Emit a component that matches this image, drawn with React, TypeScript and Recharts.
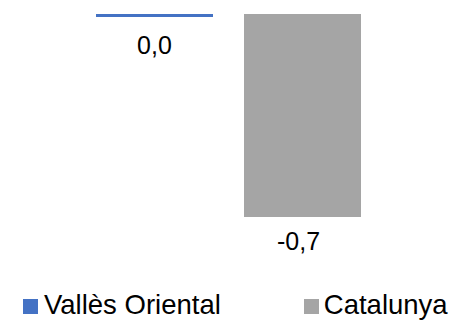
import React from 'react';
import { BarChart, Bar, XAxis, YAxis, Legend, LabelList } from 'recharts';

const categories = ['2023'];
const seriesNames = ['Vallès Oriental', 'Catalunya'];
const vallesValues = [-0.01];
const catalunyaValues = [-0.7];
const valueLabels = ['0,0', '-0,7'];

const data = categories.map((c, i) => ({
  name: c,
  valles: vallesValues[i],
  catalunya: catalunyaValues[i],
}));

const colors = ['#4472C4', '#A5A5A5'];
const FONT = '"Liberation Sans", Arial, sans-serif';

const renderLegend = () => (
  <div style={{ display: 'flex', alignItems: 'center', fontFamily: FONT, fontSize: 27.5, lineHeight: '32px', color: '#000', paddingLeft: 23, whiteSpace: 'nowrap' }}>
    <span style={{ display: 'inline-block', width: 15, height: 15, background: colors[0], marginRight: 6, marginTop: 3 }} />
    <span>{seriesNames[0]}</span>
    <span style={{ display: 'inline-block', width: 15, height: 15, background: colors[1], marginLeft: 83, marginRight: 5, marginTop: 3 }} />
    <span>{seriesNames[1]}</span>
  </div>
);

export default function App() {
  return (
    <div style={{ position: 'absolute', left: 0, top: 0, width: 456, height: 320, background: '#fff' }}>
      <BarChart
        width={456}
        height={320}
        data={data}
        margin={{ top: 14, right: 0, left: 1, bottom: 71 }}
        barGap={31}
      >
        <XAxis dataKey="name" hide />
        <YAxis hide domain={[-0.7, 0]} />
        <Legend
          content={renderLegend}
          verticalAlign="bottom"
          wrapperStyle={{ position: 'absolute', left: 0, top: 289, width: 456, height: 32 }}
        />
        <Bar dataKey="valles" name={seriesNames[0]} fill={colors[0]} barSize={117} isAnimationActive={false}>
          <LabelList
            dataKey="valles"
            position="top"
            offset={19}
            formatter={() => valueLabels[0]}
            style={{ fontFamily: FONT, fontSize: 25, fill: '#000' }}
          />
        </Bar>
        <Bar dataKey="catalunya" name={seriesNames[1]} fill={colors[1]} barSize={117} isAnimationActive={false}>
          <LabelList
            dataKey="catalunya"
            position="top"
            offset={15}
            dx={-4}
            formatter={() => valueLabels[1]}
            style={{ fontFamily: FONT, fontSize: 25, fill: '#000' }}
          />
        </Bar>
      </BarChart>
    </div>
  );
}
